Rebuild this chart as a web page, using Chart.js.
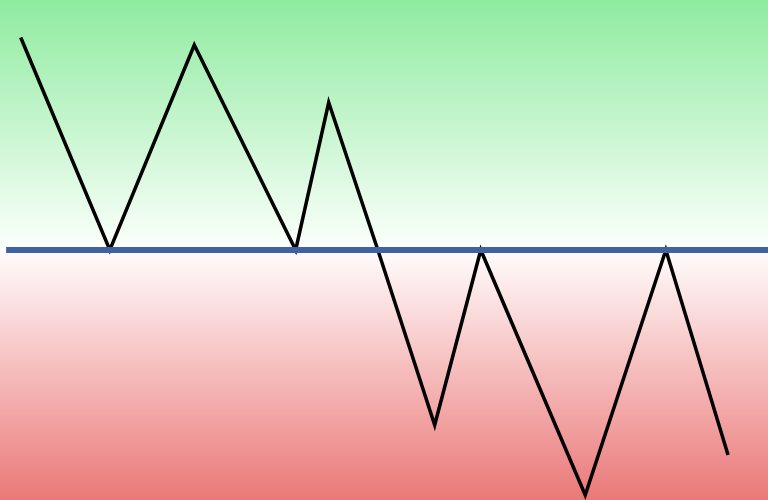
<!DOCTYPE html>
<html>
<head>
<meta charset="utf-8">
<script src="https://cdn.jsdelivr.net/npm/chart.js@4/dist/chart.umd.min.js"></script>
<style>
html,body{margin:0;padding:0;background:#fff;}
#wrap{width:768px;height:500px;position:relative;}
</style>
</head>
<body>
<div id="wrap"><canvas id="c"></canvas></div>
<script>
// Data
const xValues = [2.7, 14.3, 25.3, 38.5, 42.8, 49.2, 56.6, 62.6, 76.2, 86.7, 94.8];
const yValues = [8.5, 0, 8.2, 0, 5.9, 0, -7.0, 0, -9.8, 0, -8.2];
const baselineX = [0.8, 100];
const baselineY = [0, 0];

const seriesPoints = xValues.map((x, i) => ({x: x, y: yValues[i]}));
const baselinePoints = baselineX.map((x, i) => ({x: x, y: baselineY[i]}));

const bgPlugin = {
  id: 'bgGradient',
  beforeDraw(chart) {
    const {ctx, chartArea} = chart;
    const g = ctx.createLinearGradient(0, chartArea.top, 0, chartArea.bottom);
    g.addColorStop(0, '#8FEBA0');
    g.addColorStop(0.49, '#FAFFFA');
    g.addColorStop(0.5, '#FFFFFF');
    g.addColorStop(0.51, '#FFFAFA');
    g.addColorStop(1, '#EB7878');
    ctx.save();
    ctx.fillStyle = g;
    ctx.fillRect(0, 0, chart.width, chart.height);
    ctx.restore();
  }
};

new Chart(document.getElementById('c'), {
  type: 'line',
  data: {
    datasets: [
      {
        data: baselinePoints,
        borderColor: '#3F62A3',
        borderWidth: 6,
        pointRadius: 0,
        fill: false,
        order: 0,
        clip: false
      },
      {
        data: seriesPoints,
        borderColor: '#000000',
        borderWidth: 3.5,
        pointRadius: 0,
        fill: false,
        tension: 0,
        order: 1,
        clip: false
      }
    ]
  },
  options: {
    responsive: true,
    maintainAspectRatio: false,
    animation: false,
    layout: {padding: 0},
    plugins: {legend: {display: false}, tooltip: {enabled: false}},
    scales: {
      x: {type: 'linear', min: 0, max: 100, display: false},
      y: {min: -10, max: 10, display: false}
    }
  },
  plugins: [bgPlugin]
});
</script>
</body>
</html>
